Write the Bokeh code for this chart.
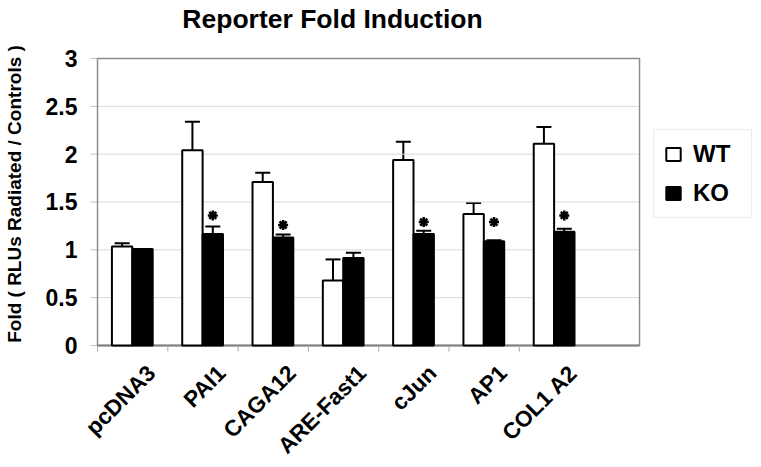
import math
from bokeh.plotting import figure
from bokeh.models import (Legend, LegendItem, Whisker, ColumnDataSource, TeeHead, Range1d)
from bokeh.core.properties import value
from bokeh.embed import file_html
from bokeh.resources import INLINE

categories = ["pcDNA3", "PAI1", "CAGA12", "ARE-Fast1", "cJun", "AP1", "COL1 A2"]
wt = [1.035, 2.04, 1.71, 0.68, 1.94, 1.375, 2.11]
wt_err = [0.035, 0.30, 0.095, 0.22, 0.19, 0.115, 0.175]
ko = [1.01, 1.165, 1.13, 0.915, 1.165, 1.09, 1.19]
ko_err = [0.0, 0.08, 0.03, 0.055, 0.035, 0.01, 0.03]
star_level = [None, 1.36, 1.26, None, 1.29, 1.29, 1.36]
y_ticks = [0, 0.5, 1, 1.5, 2, 2.5, 3]
title_text = "Reporter Fold Induction"
y_label = "Fold ( RLUs Radiated / Controls )"

FONT = "Liberation Sans"
n = len(categories)
centers = [i + 0.5 for i in range(n)]
x_wt = [c - 0.15 for c in centers]
x_ko = [c + 0.14 for c in centers]

# The Bokeh frame covers the whole canvas; the Excel-like plot area is drawn
# inside it, with the axis texts, title and legend placed around it.
AREA_RIGHT = 7.71
Y_TOP = y_ticks[-1]
X_START, X_END = -1.380, 9.445
Y_START, Y_END = -1.275, 3.606
TICK_LEN_Y = 0.063
TICK_LEN_X = 0.10

p = figure(width=761, height=467, output_backend="svg", toolbar_location=None,
           x_range=Range1d(X_START, X_END), y_range=Range1d(Y_START, Y_END),
           min_border_left=0, min_border_right=0, min_border_top=0,
           min_border_bottom=0)
p.outline_line_color = None
p.title.visible = False
p.xaxis.visible = False
p.yaxis.visible = False
p.xgrid.grid_line_color = None
p.ygrid.grid_line_color = None

# grid lines and plot-area border
grid_y = y_ticks[1:-1]
p.segment(x0=[0] * len(grid_y), x1=[AREA_RIGHT] * len(grid_y), y0=grid_y, y1=grid_y,
          line_color="#d9d9d9", line_width=1)
p.segment(x0=[0] * len(y_ticks), x1=[-TICK_LEN_X] * len(y_ticks), y0=y_ticks, y1=y_ticks,
          line_color="#bfbfbf", line_width=1)
p.quad(left=[0], right=[AREA_RIGHT], bottom=[0], top=[Y_TOP], fill_color=None,
       line_color="#8c8c8c", line_width=1.5)
p.segment(x0=[0], x1=[AREA_RIGHT], y0=[0], y1=[0], line_color="#808080", line_width=2)
bounds = list(range(n))
p.segment(x0=bounds, x1=bounds, y0=[0] * n, y1=[-TICK_LEN_Y] * n,
          line_color="#a6a6a6", line_width=1)

r_wt = p.vbar(x=x_wt, top=wt, width=0.29, fill_color="white", line_color="black", line_width=2)
r_ko = p.vbar(x=x_ko, top=ko, width=0.29, fill_color="black", line_color="black", line_width=2)

up_wt = [v + e for v, e in zip(wt, wt_err)]
lo_wt = [v - e for v, e in zip(wt, wt_err)]
src_wt = ColumnDataSource(dict(x=x_wt, upper=up_wt, lower=lo_wt))
p.add_layout(Whisker(base="x", upper="upper", lower="lower", source=src_wt,
                     line_width=2, line_color="black",
                     upper_head=TeeHead(size=15, line_width=2, line_color="black"),
                     lower_head=TeeHead(size=15, line_width=2, line_color="black")))

kx = [x for x, e in zip(x_ko, ko_err) if e > 0]
ku = [v + e for v, e in zip(ko, ko_err) if e > 0]
kl = [v - e for v, e in zip(ko, ko_err) if e > 0]
src_ko = ColumnDataSource(dict(x=kx, upper=ku, lower=kl))
p.add_layout(Whisker(base="x", upper="upper", lower="lower", source=src_ko,
                     line_width=2, line_color="black",
                     upper_head=TeeHead(size=15, line_width=2, line_color="black"),
                     lower_head=TeeHead(size=15, line_width=2, line_color="black")))

sx = [x for x, s in zip(x_ko, star_level) if s is not None]
sy = [s for s in star_level if s is not None]
p.scatter(x=sx, y=sy, marker="asterisk", size=10, line_width=2.5, color="black")

# rotated category labels (Excel style)
p.text(x=centers, y=[0] * n, text=categories, angle=math.pi / 4,
       x_offset=10, y_offset=15, text_align="right", text_baseline="top",
       text_font=value(FONT), text_font_style="bold", text_font_size="22.5px",
       text_color="black")

# y tick labels
p.text(x=[0] * len(y_ticks), y=y_ticks, text=[f"{t:g}" for t in y_ticks],
       x_offset=-20, text_align="right", text_baseline="middle",
       text_font=value(FONT), text_font_style="bold", text_font_size="23px",
       text_color="black")

# y axis title
p.text(x=[0], y=[Y_TOP / 2], text=[y_label], angle=math.pi / 2,
       x_offset=-83, y_offset=-8, text_align="center", text_baseline="middle",
       text_font=value(FONT), text_font_style="bold", text_font_size="19px",
       text_color="black")

# chart title
p.text(x=[0], y=[Y_TOP], text=[title_text], x_offset=235, y_offset=-39,
       text_align="center", text_baseline="alphabetic",
       text_font=value(FONT), text_font_style="bold", text_font_size="26.5px",
       text_color="black")

legend = Legend(items=[LegendItem(label="WT", renderers=[r_wt]),
                       LegendItem(label="KO", renderers=[r_ko])],
                location=(653, 249))
legend.margin = 0
legend.label_text_font = FONT
legend.label_text_font_style = "bold"
legend.label_text_font_size = "24px"
legend.label_text_color = "black"
legend.glyph_width = 18
legend.glyph_height = 16
legend.label_standoff = 11
legend.label_width = 48
legend.spacing = 11
legend.padding = 10
legend.border_line_color = "#d9d9d9"
legend.border_line_width = 1.5
p.add_layout(legend, "center")

open("out.html", "w").write(file_html(p, INLINE))
